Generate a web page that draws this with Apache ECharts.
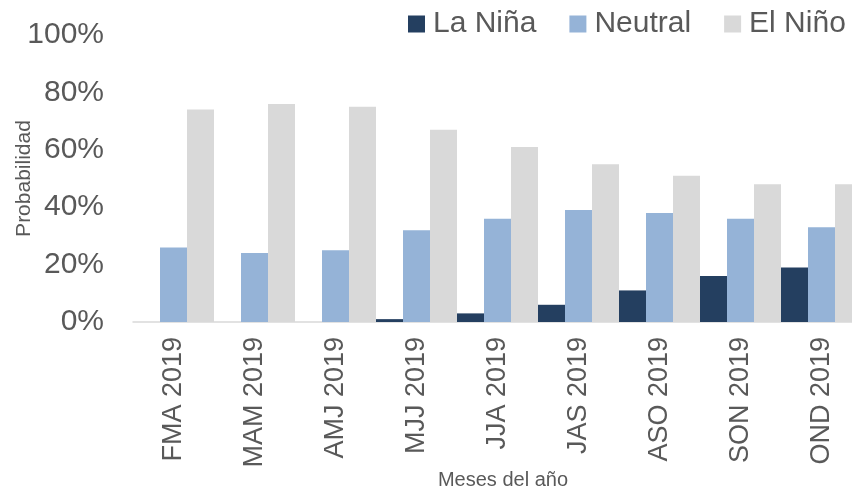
<!DOCTYPE html>
<html>
<head>
<meta charset="utf-8">
<script src="https://cdn.jsdelivr.net/npm/echarts@6/dist/echarts.min.js"></script>
<style>
  html, body { margin: 0; padding: 0; background: #fff; }
  #chart { width: 852px; height: 490px; }
</style>
</head>
<body>
<div id="chart"></div>
<script>
const categories = ["FMA 2019", "MAM 2019", "AMJ 2019", "MJJ 2019", "JJA 2019", "JAS 2019", "ASO 2019", "SON 2019", "OND 2019"];
const laNina = [0, 0, 0, 1, 3, 6, 11, 16, 19];
const neutral = [26, 24, 25, 32, 36, 39, 38, 36, 33];
const elNino = [74, 76, 75, 67, 61, 55, 51, 48, 48];
const yTicks = [0, 20, 40, 60, 80, 100];

const textColor = "#595959";
const chart = echarts.init(document.getElementById("chart"));

chart.setOption({
  backgroundColor: "#fff",
  animation: false,
  textStyle: { fontFamily: "Liberation Sans, Arial, sans-serif" },
  legend: {
    left: 408,
    top: 9,
    width: 480,
    padding: 0,
    itemWidth: 17,
    itemHeight: 17,
    itemGap: 33,
    icon: "rect",
    textStyle: { fontSize: 30, color: textColor, padding: [0, 0, 0, 3] },
    data: ["La Niña", "Neutral", "El Niño"]
  },
  // the last category runs past the right edge of the picture
  grid: {
    left: 133, width: 729, top: 35, bottom: 168,
    containLabel: false, outerBoundsMode: "none"
  },
  xAxis: {
    type: "category",
    data: categories,
    name: "Meses del año",
    nameLocation: "middle",
    nameGap: 148,
    nameMoveOverlap: false,
    nameTextStyle: { fontSize: 20, color: textColor, padding: [0, 0, 0, 11] },
    axisLine: { lineStyle: { color: "#d9d9d9", width: 1.5 } },
    axisTick: { show: false },
    axisLabel: { rotate: 90, fontSize: 27, color: textColor, margin: 15 }
  },
  yAxis: {
    type: "value",
    min: yTicks[0],
    max: yTicks[yTicks.length - 1],
    interval: 20,
    name: "Probabilidad",
    nameLocation: "middle",
    nameGap: 98,
    nameMoveOverlap: false,
    nameTextStyle: { fontSize: 21, color: textColor },
    axisLine: { show: false },
    axisTick: { show: false },
    splitLine: { show: false },
    axisLabel: { fontSize: 30, color: textColor, margin: 29, formatter: "{value}%" }
  },
  series: [
    {
      name: "La Niña",
      type: "bar",
      barGap: "0%",
      barCategoryGap: "0%",
      itemStyle: { color: "#243f60" },
      data: laNina
    },
    {
      name: "Neutral",
      type: "bar",
      barGap: "0%",
      barCategoryGap: "0%",
      itemStyle: { color: "#95b3d7" },
      data: neutral
    },
    {
      name: "El Niño",
      type: "bar",
      barGap: "0%",
      barCategoryGap: "0%",
      itemStyle: { color: "#d9d9d9" },
      data: elNino
    }
  ]
});
</script>
</body>
</html>
